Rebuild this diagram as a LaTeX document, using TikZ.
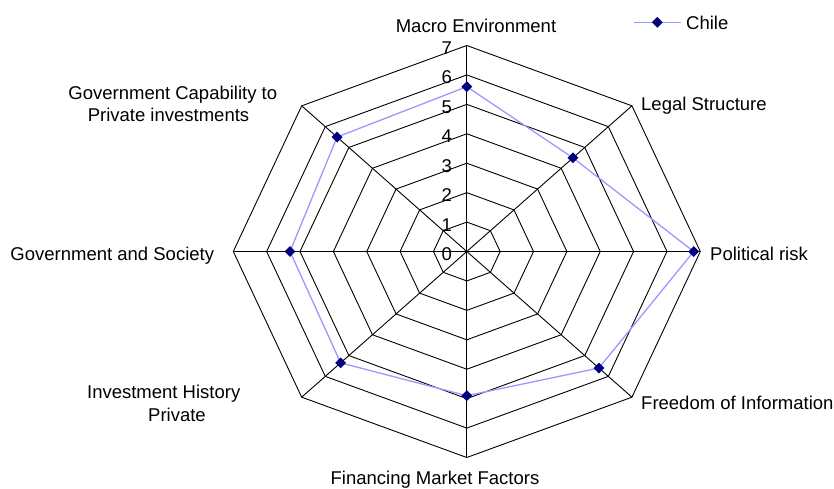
\documentclass[tikz,border=0pt]{standalone}
\usepackage{fontspec}
\setmainfont{Liberation Sans}
\usetikzlibrary{shapes.geometric}
\definecolor{serline}{RGB}{153,153,255}
\definecolor{sermark}{RGB}{0,0,128}
\begin{document}
\begin{tikzpicture}[x=1pt,y=-1pt,
  font=\fontsize{18.5}{22.6}\selectfont,
  gridline/.style={black,line width=0.9pt,line join=miter},
  seriesline/.style={draw=serline,line width=1.3pt},
  marker/.style={diamond,fill=sermark,inner sep=0pt,minimum width=11pt,minimum height=11pt},
  lab/.style={inner sep=0pt}]
\useasboundingbox (0,0) rectangle (834,488);
\begin{scope}[shift={(466.8,251.5)},x=33.36pt,y=29.43pt]
  \coordinate (O) at (0,0);
  % rings
  \foreach \r in {1,...,7} {
    \draw[gridline] (0,\r) \foreach \i in {1,...,7}{ -- ({\r*sin(45*\i)},{\r*cos(45*\i)}) } -- cycle;
  }
  % spokes
  \foreach \i in {0,...,7} {
    \coordinate (A\i) at ({7*sin(45*\i)},{7*cos(45*\i)});
    \draw[gridline] (O) -- (A\i);
  }
  % scale numbers
  \foreach \r in {0,...,7} {
    \node[lab,anchor=base east] (n\r) at (-0.444,{\r-0.306}) {\r};
  }
  % data
  \foreach \v [count=\i from 0] in {5.6,4.5,6.8,5.6,4.9,5.35,5.3,5.5} {
    \coordinate (p\i) at ({\v*sin(45*\i)},{\v*cos(45*\i)});
  }
  \draw[seriesline] (p0) -- (p1) -- (p2) -- (p3) -- (p4) -- (p5) -- (p6) -- (p7) -- cycle;
  \foreach \i in {0,...,7} { \node[marker] (d\i) at (p\i) {}; }
\end{scope}
% axis labels
\node[lab,anchor=base] (lMacro) at (476,32.7) {Macro Environment};
\node[lab,anchor=base west] (lLegal) at (641,110.6) {Legal Structure};
\node[lab,anchor=base west] (lPol) at (710,260) {Political risk};
\node[lab,anchor=base west] (lFree) at (641,409.3) {Freedom of Information};
\node[lab,anchor=base] (lFin) at (435,484.3) {Financing Market Factors};
\node[lab,anchor=base] (lInvA) at (163.7,398.3) {Investment History};
\node[lab,anchor=base] (lInvB) at (177,421.7) {Private};
\node[lab,anchor=base east] (lSoc) at (214.3,260.7) {Government and Society};
\node[lab,anchor=base] (lCapA) at (172.8,99) {Government Capability to};
\node[lab,anchor=base] (lCapB) at (168.5,121) {Private investments};
% legend
\coordinate (legL) at (634.3,22.3);
\coordinate (legR) at (680.7,22.3);
\draw[seriesline] (legL) -- (legR);
\node[marker] (legM) at (657.3,22.3) {};
\node[lab,anchor=base west] (legT) at (686,29.6) {Chile};
\end{tikzpicture}
\end{document}
